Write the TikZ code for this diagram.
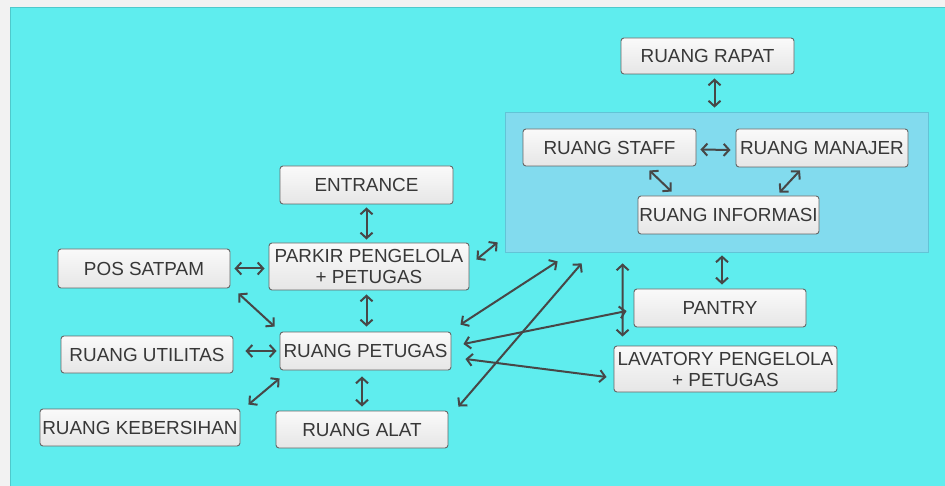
\documentclass[tikz,border=0pt]{standalone}
\usepackage{fontspec}
\setmainfont{Liberation Sans}
\usetikzlibrary{arrows.meta,calc}
\definecolor{pagebg}{HTML}{F2F2F2}
\definecolor{cyanbg}{HTML}{5FEDEE}
\definecolor{cyanedge}{HTML}{4FC9CC}
\definecolor{panelfill}{HTML}{82DBEE}
\definecolor{paneledge}{HTML}{62C4D6}
\definecolor{boxedge}{HTML}{666666}
\definecolor{boxtop}{HTML}{FAFAFA}
\definecolor{boxbot}{HTML}{E6E6E6}
\definecolor{txt}{HTML}{383838}
\definecolor{arrc}{HTML}{474747}
\tikzset{
  room/.style={draw=boxedge, line width=0.9pt, rounded corners=3pt,
    top color=boxtop, bottom color=boxbot, text=txt,
    font=\fontsize{18.9}{21}\selectfont, align=center, inner sep=0pt},
  arr/.style={arrc, line width=2pt,
    {Straight Barb[length=5.5pt,width=12pt]}-{Straight Barb[length=5.5pt,width=12pt]}},
}
\begin{document}
\begin{tikzpicture}[x=1pt,y=-1pt]
\useasboundingbox (0,0) rectangle (945,486);
\fill[pagebg] (0,0) rectangle (945,486);
\fill[cyanbg] (10,7) rectangle (945,486);
\draw[cyanedge, line width=0.8pt] (10,486) -- (10,7) -- (945,7);

% panel
\node[draw=paneledge, fill=panelfill, line width=0.8pt, minimum width=423, minimum height=140, inner sep=0pt] (panel) at (716.5,182) {};

% nodes
\node[room, minimum width=173, minimum height=36] (rapat) at (707.5,56) {RUANG RAPAT};
\node[room, minimum width=173, minimum height=37] (staff) at (609.5,147.5) {RUANG STAFF};
\node[room, minimum width=172, minimum height=38] (manajer) at (822,148) {RUANG MANAJER};
\node[room, minimum width=181, minimum height=38] (info) at (728.5,215) {RUANG INFORMASI};
\node[room, minimum width=173, minimum height=38] (entrance) at (366.5,185) {ENTRANCE};
\node[room, minimum width=200, minimum height=47] (parkir) at (369,266.5) {PARKIR PENGELOLA\\+ PETUGAS};
\node[room, minimum width=172, minimum height=39] (pos) at (144,268.5) {POS SATPAM};
\node[room, minimum width=172, minimum height=37] (utilitas) at (147,354.5) {RUANG UTILITAS};
\node[room, minimum width=171, minimum height=38] (petugas) at (365.5,351) {RUANG PETUGAS};
\node[room, minimum width=200, minimum height=37] (kebersihan) at (140,427.5) {RUANG KEBERSIHAN};
\node[room, minimum width=172, minimum height=37] (alat) at (362,429.5) {RUANG ALAT};
\node[room, minimum width=172, minimum height=38] (pantry) at (720,308) {PANTRY};
\node[room, minimum width=223, minimum height=46] (lavatory) at (725.5,369) {LAVATORY PENGELOLA\\+ PETUGAS};

% connectors
\draw[arr] ($(rapat.south)+(7,4)$) -- ($(rapat.south |- panel.north)+(7,-4)$);
\draw[arr] ($(staff.east)+(4,2)$) -- ($(manajer.west)+(-5,2)$);
\draw[arr] ($(staff.south)+(40,4)$) -- ($(info.north)+(-57,-4)$);
\draw[arr] ($(manajer.south)+(-22,3)$) -- ($(info.north)+(51,-3)$);
\draw[arr] ($(pantry.north |- panel.south)+(2,3)$) -- ($(pantry.north)+(2,-4)$);
\draw[arr] ($(entrance.south)+(0,3)$) -- ($(entrance.south |- parkir.north)+(0,-3)$);
\draw[arr] ($(parkir.east)+(7,-7)$) -- ($(panel.south west)+(-7,-10)$);
\draw[arr] ($(pos.east)+(4,0)$) -- ($(pos.east -| parkir.west)+(-4,0)$);
\draw[arr] ($(pos.south east)+(8,5)$) -- ($(petugas.north west)+(-5,-5)$);
\draw[arr] ($(entrance.south |- parkir.south)+(0,4)$) -- ($(entrance.south |- petugas.north)+(0,-5)$);
\draw[arr] ($(utilitas.east |- petugas.west)+(12,0)$) -- ($(petugas.west)+(-3,0)$);
\draw[arr] ($(petugas.south west)+(0,8)$) -- ($(kebersihan.north east)+(8,-4)$);
\draw[arr] ($(alat.north |- petugas.south)+(0,6)$) -- ($(alat.north)+(0,-4)$);
\draw[arr] ($(petugas.north east)+(9,-7)$) -- ($(panel.south west)+(53,9)$);
\draw[arr] ($(petugas.east)+(12,-7)$) -- ($(pantry.west)+(-7,3)$);
\draw[arr] ($(petugas.east)+(14,8)$) -- ($(lavatory.west)+(-7,8)$);
\draw[arr] ($(alat.north east)+(10,-4)$) -- ($(panel.south west)+(77,11)$);
\draw[arr] ($(panel.south west)+(118,11)$) -- ($(lavatory.north west)+(9,-9)$);
\end{tikzpicture}
\end{document}
